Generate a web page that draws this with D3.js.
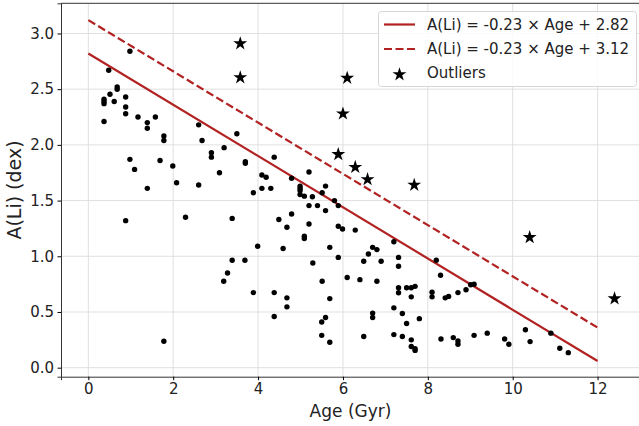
<!DOCTYPE html>
<html lang="en">
<head>
<meta charset="UTF-8">
<title>A(Li) vs Age</title>
<script src="https://d3js.org/d3.v7.min.js"></script>
<style>
  body { margin: 0; background: #fff; }
  svg { font-family: "DejaVu Sans", sans-serif; }
</style>
</head>
<body>
<div id="chart"></div>
<script>
// star data (age in Gyr, A(Li) in dex)
const ages = [
  0.98, 0.48, 0.68, 0.68, 0.51, 0.37, 0.37, 0.37, 0.61, 0.88, 0.88, 0.88, 0.37, 1.17, 1.39, 1.39,
  1.58, 1.78, 1.78, 0.98, 1.09, 1.39, 1.69, 1.99, 2.08, 2.60, 2.60, 2.68, 2.90, 2.90, 3.20, 3.09,
  3.50, 3.70, 3.70, 3.89, 4.09, 4.19, 0.88, 2.29, 3.39, 3.99, 3.39, 3.69, 3.28, 3.19, 3.89, 1.78,
  4.38, 4.09, 4.30, 4.79, 5.20, 4.99, 4.99, 4.99, 4.99, 5.09, 5.28, 5.59, 5.51, 5.80, 5.20, 5.40,
  5.59, 5.89, 4.49, 4.79, 4.68, 5.20, 5.09, 5.09, 5.89, 5.99, 6.29, 4.59, 5.69, 5.29, 5.89, 6.49,
  6.60, 6.70, 6.80, 6.90, 7.20, 7.31, 7.31, 8.20, 8.30, 6.10, 6.40, 6.80, 5.51, 4.38, 4.68, 4.68,
  5.69, 7.31, 7.31, 7.50, 7.61, 7.70, 7.61, 8.10, 8.10, 8.41, 8.49, 4.38, 5.50, 5.59, 5.50, 5.69,
  6.70, 6.70, 6.49, 7.20, 7.40, 7.50, 7.80, 7.20, 7.40, 7.61, 7.61, 7.70, 7.70, 8.71, 8.90, 9.01,
  9.09, 8.31, 8.60, 8.71, 8.71, 9.09, 9.40, 9.81, 9.91, 10.30, 10.41, 10.90, 11.11, 11.31
];
const ali = [
  2.84, 2.67, 2.52, 2.50, 2.455, 2.41, 2.39, 2.37, 2.39, 2.43, 2.34, 2.28, 2.21, 2.25, 2.20, 2.15,
  2.25, 2.08, 2.04, 1.87, 1.78, 1.61, 1.86, 1.81, 1.66, 1.64, 2.18, 2.04, 1.93, 1.89, 1.975, 1.75,
  2.10, 1.85, 1.835, 1.57, 1.73, 1.71, 1.32, 1.35, 1.34, 1.09, 0.965, 0.965, 0.85, 0.776, 0.674, 0.237,
  1.89, 1.61, 1.61, 1.70, 1.756, 1.63, 1.61, 1.59, 1.555, 1.54, 1.535, 1.63, 1.57, 1.50, 1.455, 1.455,
  1.41, 1.455, 1.33, 1.38, 1.26, 1.29, 1.18, 1.16, 1.27, 1.245, 1.235, 1.07, 1.08, 0.94, 0.99, 0.955,
  1.02, 1.08, 1.06, 0.955, 1.13, 0.99, 0.91, 0.965, 0.83, 0.81, 0.79, 0.776, 0.776, 0.674, 0.627, 0.546,
  0.62, 0.717, 0.672, 0.717, 0.717, 0.73, 0.636, 0.677, 0.636, 0.627, 0.64, 0.46, 0.41, 0.45, 0.29, 0.228,
  0.49, 0.45, 0.28, 0.537, 0.486, 0.396, 0.44, 0.297, 0.28, 0.25, 0.19, 0.17, 0.155, 0.674, 0.70, 0.744,
  0.75, 0.258, 0.27, 0.24, 0.21, 0.29, 0.31, 0.258, 0.21, 0.34, 0.234, 0.31, 0.174, 0.135
];
const outlierAges = [3.58, 3.58, 6.10, 6.00, 5.89, 6.29, 6.58, 7.68, 10.40, 12.40];
const outlierAli  = [2.91, 2.605, 2.60, 2.28, 1.915, 1.80, 1.69, 1.64, 1.17, 0.62];

const slope = -0.23;
const intercepts = [2.82, 3.12];
const fitRange = [0, 12];
const legendLabels = ["A(Li) = -0.23 × Age + 2.82", "A(Li) = -0.23 × Age + 3.12", "Outliers"];
const xTicks = [0, 2, 4, 6, 8, 10, 12];
const yTicks = [0.0, 0.5, 1.0, 1.5, 2.0, 2.5, 3.0];

const W = 639, H = 426;
const red = "#b22222";

const svg = d3.select("#chart").append("svg")
  .attr("width", W).attr("height", H);

const x = d3.scaleLinear().domain([-0.644, 13.0]).range([61, 640]);
const y = d3.scaleLinear().domain([-0.081, 3.271]).range([376.7, 3.3]);

// grid
const grid = svg.append("g").attr("stroke", "#dcdcdc").attr("stroke-width", 0.9);
grid.selectAll("line.gx").data(xTicks).join("line")
  .attr("x1", d => x(d)).attr("x2", d => x(d))
  .attr("y1", y.range()[0]).attr("y2", y.range()[1]);
grid.selectAll("line.gy").data(yTicks).join("line")
  .attr("y1", d => y(d)).attr("y2", d => y(d))
  .attr("x1", x.range()[0]).attr("x2", x.range()[1]);

// axes
svg.append("g")
  .attr("transform", `translate(0,${y.range()[0]})`)
  .call(d3.axisBottom(x).tickValues(xTicks).tickFormat(d3.format("d")).tickSize(3.5).tickPadding(3.5))
  .call(g => g.select(".domain").attr("stroke", "#333"))
  .call(g => g.selectAll("text").attr("font-size", 15).attr("fill", "#222")
    .attr("font-family", "DejaVu Sans"));

svg.append("g")
  .attr("transform", `translate(${x.range()[0]},0)`)
  .call(d3.axisLeft(y).tickValues(yTicks).tickFormat(d3.format(".1f")).tickSize(3.5).tickPadding(3.5))
  .call(g => g.select(".domain").attr("stroke", "#333"))
  .call(g => g.selectAll("text").attr("font-size", 15).attr("fill", "#222")
    .attr("font-family", "DejaVu Sans"));

// top spine
svg.append("line")
  .attr("x1", x.range()[0]).attr("x2", x.range()[1])
  .attr("y1", y.range()[1]).attr("y2", y.range()[1])
  .attr("stroke", "#333");

// fit lines
const line = d3.line().x(d => x(d[0])).y(d => y(d[1]));
intercepts.forEach((b, i) => {
  svg.append("path")
    .datum(fitRange.map(a => [a, slope * a + b]))
    .attr("d", line)
    .attr("fill", "none")
    .attr("stroke", red)
    .attr("stroke-width", 2.2)
    .attr("stroke-dasharray", i === 1 ? "8,3.5" : null);
});

// points
svg.append("g").selectAll("circle")
  .data(ages.map((a, i) => [a, ali[i]]))
  .join("circle")
  .attr("cx", d => x(d[0]))
  .attr("cy", d => y(d[1]))
  .attr("r", 2.7)
  .attr("fill", "#000");

// outliers
const star = d3.symbol().type(d3.symbolStar).size(60);
svg.append("g").selectAll("path")
  .data(outlierAges.map((a, i) => [a, outlierAli[i]]))
  .join("path")
  .attr("d", star)
  .attr("transform", d => `translate(${x(d[0])},${y(d[1])})`)
  .attr("fill", "#000");

// legend
const lg = svg.append("g");
lg.append("rect")
  .attr("x", 378.5).attr("y", 11.5).attr("width", 258).attr("height", 75)
  .attr("rx", 3).attr("fill", "rgba(255,255,255,0.85)").attr("stroke", "#d6d6d6");
const rowY = [24.5, 49, 73];
legendLabels.forEach((t, i) => {
  if (i < 2) {
    lg.append("line")
      .attr("x1", 384).attr("x2", 415).attr("y1", rowY[i]).attr("y2", rowY[i])
      .attr("stroke", red).attr("stroke-width", 2.2)
      .attr("stroke-dasharray", i === 1 ? "8,3.5" : null);
  } else {
    lg.append("path").attr("d", star)
      .attr("transform", `translate(399.5,${rowY[i] + 1.5})`).attr("fill", "#000");
  }
  lg.append("text")
    .attr("x", 427).attr("y", rowY[i])
    .attr("dy", "0.35em")
    .attr("font-size", 15).attr("fill", "#222")
    .text(t);
});

// axis labels
svg.append("text")
  .attr("x", (x.range()[0] + x.range()[1]) / 2).attr("y", 417)
  .attr("text-anchor", "middle").attr("font-size", 17).attr("fill", "#222")
  .text("Age (Gyr)");
svg.append("text")
  .attr("transform", `translate(21,${(y.range()[0] + y.range()[1]) / 2}) rotate(-90)`)
  .attr("text-anchor", "middle").attr("font-size", 19).attr("fill", "#222")
  .text("A(Li) (dex)");
</script>
</body>
</html>
